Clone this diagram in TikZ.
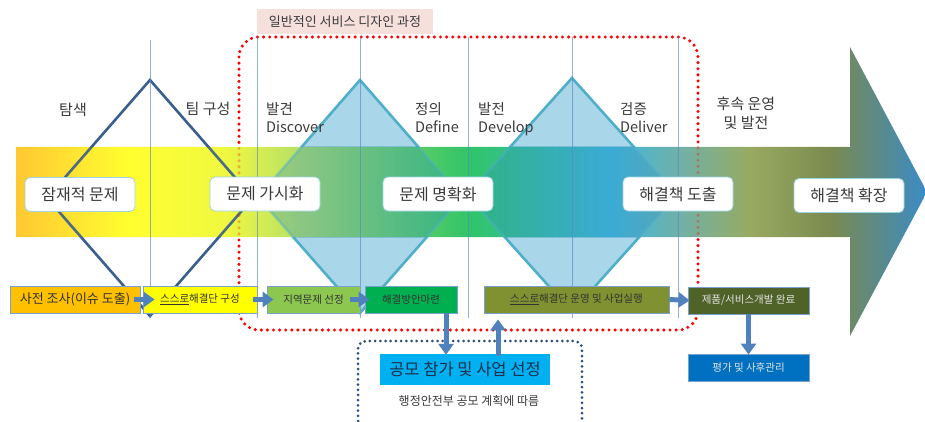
\documentclass[tikz,border=0pt]{standalone}
\usepackage{fontspec}
\setmainfont{Noto Sans CJK KR}
\usetikzlibrary{arrows.meta,shapes.geometric}
\definecolor{ink}{HTML}{3A3A3A}
\definecolor{vline}{HTML}{5B87C4}
\definecolor{flow}{HTML}{4F81BD}
\definecolor{diafill}{HTML}{A9D6E8}
\definecolor{diaover}{HTML}{2F8FC0}
\definecolor{dialine}{HTML}{4FAFC8}
\definecolor{navyline}{HTML}{3A5F8C}
\definecolor{navydot}{HTML}{2F4E80}
\definecolor{titlefill}{HTML}{F5E0DC}
\definecolor{sa}{HTML}{FFC000}\definecolor{sb}{HTML}{FFFF00}\definecolor{sc}{HTML}{8CC850}
\definecolor{sd}{HTML}{00B050}\definecolor{se}{HTML}{7F9130}\definecolor{sf}{HTML}{4F6228}
\definecolor{sg}{HTML}{0070C0}\definecolor{sh}{HTML}{00B0F0}
\definecolor{c1}{HTML}{FFC832}\definecolor{c2}{HTML}{FFFF30}\definecolor{c3}{HTML}{F0F840}
\definecolor{c4}{HTML}{B4E068}\definecolor{c5}{HTML}{30C468}\definecolor{c6}{HTML}{40B8E0}
\definecolor{c7}{HTML}{70B0A8}\definecolor{c8}{HTML}{98AA60}\definecolor{c9}{HTML}{7A8A50}
\definecolor{c10}{HTML}{5A8A8A}\definecolor{c11}{HTML}{3A8CC8}
\pgfdeclarehorizontalshading{bandshade}{100bp}{
 color(0bp)=(c1); color(25bp)=(c1); color(31.26bp)=(c2); color(36.47bp)=(c3);
 color(40.6bp)=(c4); color(49.9bp)=(c5); color(57.6bp)=(c6); color(61.4bp)=(c7);
 color(65.3bp)=(c8); color(69.7bp)=(c9); color(72.4bp)=(c10); color(75bp)=(c11); color(100bp)=(c11)}
\tikzset{
 every node/.style={font=\fontsize{15}{19}\selectfont,text=ink,inner sep=0pt},
 whitebox/.style={draw=dialine!55,line width=.8pt,fill=white,rounded corners=5pt,minimum width=110,minimum height=34,font=\fontsize{16}{19}\selectfont},
 stepbox/.style={draw=flow!75,line width=.8pt,minimum height=27,font=\fontsize{10.5}{13}\selectfont,text=black!80},
 flowarrow/.style={draw=flow,line width=5pt,-{Triangle[length=11pt,width=15pt]}},
 vert/.style={draw=vline,line width=.9pt,opacity=.65},
 reddots/.style={draw=red,line width=3.4pt,line cap=round,dash pattern=on 0pt off 6.1pt,rounded corners=20pt},
 lab/.style={align=left,anchor=north west,font=\fontsize{14.5}{18.5}\selectfont},
}
\def\diaA{(360,80) -- (462,197) -- (360,313) -- (258,197) -- cycle}
\def\diaB{(572,78) -- (677,195) -- (572,312) -- (467,195) -- cycle}
\def\diaC{(150,80) -- (253,198) -- (150,316) -- (47,198) -- cycle}
\begin{document}
\begin{tikzpicture}[x=1pt,y=-1pt]
\useasboundingbox (0,0) rectangle (925,422);
% red frame under everything
\draw[reddots] (239,37) rectangle (698,330);
% opaque diamonds outside the band
\path[fill=diafill] \diaA;
\path[fill=diafill] \diaB;
\draw[dialine,line width=2.6pt] \diaA;
\draw[dialine,line width=2.6pt] \diaB;
\draw[navyline,line width=2.6pt] \diaC;
% band arrow
\path[shading=bandshade] (16,147) -- (850,147) -- (850,47) -- (927,192) -- (850,336) -- (850,237) -- (16,237) -- cycle;
% translucent overlay inside band
\begin{scope}
\clip (16,147) rectangle (850,237);
\path[fill=diaover,opacity=.3] \diaA;
\path[fill=diaover,opacity=.3] \diaB;
\draw[dialine,line width=2.6pt,opacity=.45] \diaA;
\draw[dialine,line width=2.6pt,opacity=.45] \diaB;
\draw[navyline,line width=2.6pt,opacity=.9] \diaC;
\draw[reddots,opacity=.3] (239,37) rectangle (698,330);
\end{scope}
% vertical lines
\foreach \x/\t in {150/40,257/37,360/37,468/37,572/37,678/37}
  \draw[vert] (\x,\t) -- (\x,318);
% top label
\node[fill=titlefill,minimum width=176,minimum height=25,font=\fontsize{13}{16}\selectfont] (title) at (345,21.5) {일반적인 서비스 디자인 과정};
% upper labels
\node (n1) at (73,110) {탐색};
\node (n2) at (208,109) {팀 구성};
\node[lab] (n3) at (266,102) {발견\\Discover};
\node[lab] (n4) at (415,102) {정의\\Define};
\node[lab] (n5) at (478,102) {발전\\Develop};
\node[lab] (n6) at (620,102) {검증\\Deliver};
\node[align=center] (n7) at (746,113) {후속 운영\\및 발전};
% white boxes
\node[whitebox] (w1) at (80,194.5) {잠재적 문제};
\node[whitebox] (w2) at (265,194) {문제 가시화};
\node[whitebox] (w3) at (438,194) {문제 명확화};
\node[whitebox] (w4) at (678,194) {해결책 도출};
\node[whitebox] (w5) at (849,195.5) {해결책 확장};
% step boxes
\node[stepbox,fill=sa,minimum width=130,font=\fontsize{13}{16}\selectfont] (s1) at (75,299.5) {사전 조사(이슈 도출)};
\node[stepbox,fill=sb,minimum width=114] (s2) at (200,299.5) {\underline{스스로}해결단 구성};
\node[stepbox,fill=sc,minimum width=93] (s3) at (313.5,299.5) {지역문제 선정};
\node[stepbox,fill=sd,minimum width=92] (s4) at (411,299.5) {해결방안마련};
\node[stepbox,fill=se,minimum width=185] (s5) at (576.5,299.5) {\underline{스스로}해결단 운영 및 사업실행};
\node[stepbox,fill=sf,minimum width=121,text=white!90!black] (s6) at (748.5,300.5) {제품/서비스개발 완료};
\node[stepbox,fill=sg,minimum width=121,text=white!90!black] (s7) at (748.5,367.5) {평가 및 사후관리};
% navy dotted open frame
\draw[navydot,line width=3pt,line cap=round,dash pattern=on 0pt off 5.2pt,rounded corners=8pt] (358,421) -- (358,341) -- (582,341) -- (582,421);
\node[fill=sh,minimum width=170,minimum height=31,font=\fontsize{16.5}{20}\selectfont,text=navydot!60!black] (s8) at (465,369.5) {공모 참가 및 사업 선정};
\node[font=\fontsize{12}{15}\selectfont] (note) at (469,401) {행정안전부 공모 계획에 따름};
% flow arrows
\draw[flowarrow] ([xshift=-6]s1.east) -- ([xshift=12]s2.west);
\draw[flowarrow] ([xshift=-4]s2.east) -- ([xshift=7]s3.west);
\draw[flowarrow] ([xshift=-10]s3.east) -- ([xshift=5]s4.west);
\draw[flowarrow] (s5.east) -- ([xshift=2]s6.west);
\draw[flowarrow] ([xshift=35]s4.south) -- ([xshift=-19,yshift=-1]s8.north);
\draw[flowarrow] ([xshift=33,yshift=-2]s8.north) -- ([xshift=-78.5,yshift=-6]s5.south);
\draw[flowarrow] (s6.south) -- ([yshift=-1]s7.north);
\end{tikzpicture}
\end{document}
